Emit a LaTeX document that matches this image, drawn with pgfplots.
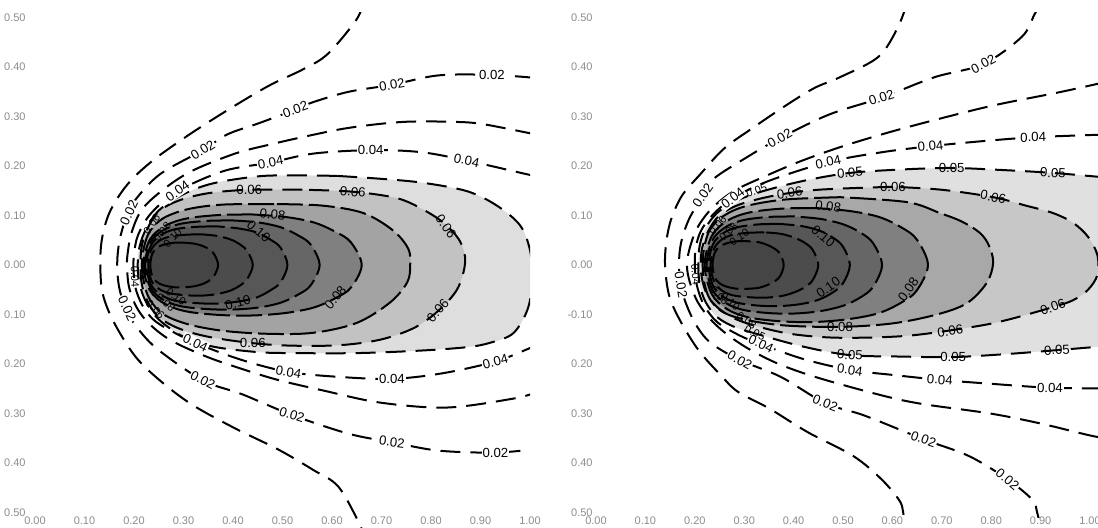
\documentclass[border=0pt]{standalone}
\usepackage{pgfplots}
\pgfplotsset{compat=1.18}
\usepackage{fontspec}
\setmainfont{Liberation Sans}
\newcommand\labfont{\fontsize{6.6}{7}\selectfont}
\newcommand\slabfont{\fontsize{5.4}{6}\selectfont}
\newcommand\tickfont{\fontsize{5.5}{6}\selectfont}
\pgfplotsset{
 cA/.style={black, line width=1pt, dash pattern=on 10pt off 5pt, smooth, tension=0.55},
 cB/.style={black, line width=1pt, dash pattern=on 13pt off 3pt, smooth, tension=0.55},
 fl/.style={draw=none, smooth, tension=0.55},
 base/.style={scale only axis, axis line style={draw=none}, major tick length=0pt, tick style={draw=none}, clip=true,
   xtick={0,0.1,0.2,0.3,0.4,0.5,0.6,0.7,0.8,0.9,1},
   xticklabels={0.00,0.10,0.20,0.30,0.40,0.50,0.60,0.70,0.80,0.90,1.00},
   ytick={-0.5,-0.4,-0.3,-0.2,-0.1,0,0.1,0.2,0.3,0.4,0.5},
   ticklabel style={font=\tickfont, text=black!45, inner sep=0pt}},
}
\tikzset{lab/.style={font=\labfont, inner sep=0.5pt, fill=white},
 labn/.style={font=\labfont, inner sep=0.3pt},
 labs/.style={font=\slabfont, inner sep=0.1pt}}
\newcommand\cl[5][lab]{\node[#1,rotate=#4] at (axis cs:#2,#3) {#5};}
\begin{document}
\begin{tikzpicture}[x=1pt,y=1pt]
\useasboundingbox (0,0) rectangle (549,264);
% ================= LEFT =================
\begin{axis}[base, at={(17.5pt,0.33pt)}, anchor=south west, width=247.5pt, height=257.4pt,
 xmin=0, xmax=1, ymin=-0.53, ymax=0.51,
 yticklabels={0.50,0.40,0.30,0.20,0.10,0.00,0.10,0.20,0.30,0.40,0.50},
 xticklabel style={anchor=north, yshift=5.7pt},
 yticklabel style={anchor=east, xshift=-4.5pt}]
% fills
\addplot[fl, fill=black!13] coordinates {(0.61,0.18) (0.52,0.181) (0.45,0.179) (0.36,0.165) (0.3,0.143) (0.25,0.11) (0.222,0.068) (0.209,0.025) (0.209,-0.025) (0.222,-0.07) (0.25,-0.11) (0.3,-0.145) (0.36,-0.165) (0.45,-0.176) (0.52,-0.178) (0.65,-0.178) (0.778,-0.173) (0.873,-0.166) (0.92,-0.157) (0.966,-0.138) (0.995,-0.09) (1.005,-0.03) (1.0,0.03) (0.98,0.08) (0.933,0.12) (0.873,0.149) (0.784,0.166) (0.7,0.174) (0.61,0.18)} --cycle;
\addplot[fl, fill=black!24] coordinates {(0.54,0.152) (0.433,0.152) (0.35,0.145) (0.29,0.13) (0.25,0.108) (0.228,0.075) (0.216,0.04) (0.213,0) (0.216,-0.04) (0.228,-0.075) (0.25,-0.105) (0.29,-0.128) (0.35,-0.145) (0.44,-0.158) (0.52,-0.163) (0.616,-0.162) (0.697,-0.151) (0.764,-0.128) (0.812,-0.095) (0.853,-0.049) (0.869,0.006) (0.859,0.047) (0.828,0.083) (0.784,0.112) (0.731,0.135) (0.642,0.148) (0.54,0.152)} --cycle;
\addplot[fl, fill=black!36] coordinates {(0.483,0.123) (0.38,0.122) (0.31,0.113) (0.26,0.095) (0.232,0.068) (0.22,0.035) (0.216,0) (0.22,-0.035) (0.232,-0.07) (0.26,-0.1) (0.31,-0.12) (0.38,-0.133) (0.47,-0.139) (0.562,-0.137) (0.65,-0.117) (0.717,-0.076) (0.752,-0.035) (0.758,0) (0.754,0.033) (0.723,0.07) (0.663,0.105) (0.58,0.12) (0.483,0.123)} --cycle;
\addplot[fl, fill=black!50] coordinates {(0.44,0.102) (0.373,0.101) (0.307,0.094) (0.263,0.079) (0.232,0.051) (0.219,0) (0.232,-0.051) (0.263,-0.079) (0.307,-0.094) (0.373,-0.101) (0.44,-0.102) (0.506,-0.097) (0.563,-0.086) (0.607,-0.067) (0.638,-0.046) (0.66,0) (0.638,0.046) (0.607,0.067) (0.563,0.086) (0.506,0.097) (0.44,0.102)} --cycle;
\addplot[fl, fill=black!60] coordinates {(0.399,0.09) (0.346,0.089) (0.293,0.083) (0.257,0.069) (0.233,0.045) (0.222,0) (0.233,-0.045) (0.257,-0.069) (0.293,-0.083) (0.346,-0.089) (0.399,-0.09) (0.451,-0.086) (0.497,-0.076) (0.533,-0.059) (0.557,-0.041) (0.575,0) (0.557,0.041) (0.533,0.059) (0.497,0.076) (0.451,0.086) (0.399,0.09)} --cycle;
\addplot[fl, fill=black!66] coordinates {(0.368,0.078) (0.325,0.077) (0.282,0.072) (0.254,0.06) (0.234,0.039) (0.225,0) (0.234,-0.039) (0.254,-0.06) (0.282,-0.072) (0.325,-0.077) (0.368,-0.078) (0.41,-0.074) (0.447,-0.066) (0.476,-0.051) (0.496,-0.035) (0.51,0) (0.496,0.035) (0.476,0.051) (0.447,0.066) (0.41,0.074) (0.368,0.078)} --cycle;
\addplot[fl, fill=black!70] coordinates {(0.335,0.062) (0.303,0.061) (0.271,0.057) (0.25,0.048) (0.235,0.031) (0.229,0) (0.235,-0.031) (0.25,-0.048) (0.271,-0.057) (0.303,-0.061) (0.335,-0.062) (0.366,-0.059) (0.394,-0.052) (0.415,-0.041) (0.429,-0.028) (0.44,0) (0.429,0.028) (0.415,0.041) (0.394,0.052) (0.366,0.059) (0.335,0.062)} --cycle;
\addplot[fl, fill=black!73] coordinates {(0.302,0.045) (0.281,0.045) (0.26,0.041) (0.247,0.035) (0.237,0.023) (0.233,0) (0.237,-0.023) (0.247,-0.035) (0.26,-0.041) (0.281,-0.045) (0.302,-0.045) (0.322,-0.043) (0.34,-0.038) (0.354,-0.03) (0.363,-0.02) (0.37,0) (0.363,0.02) (0.354,0.03) (0.34,0.038) (0.322,0.043) (0.302,0.045)} --cycle;
% lines
\addplot[cA] coordinates {(0.663,0.53) (0.649,0.495) (0.591,0.426) (0.541,0.395) (0.476,0.364) (0.404,0.322) (0.317,0.267) (0.238,0.211) (0.187,0.163) (0.151,0.107) (0.135,0.051) (0.132,-0.004) (0.137,-0.059) (0.159,-0.115) (0.202,-0.184) (0.252,-0.233) (0.317,-0.282) (0.404,-0.330) (0.490,-0.372) (0.562,-0.414) (0.613,-0.448) (0.656,-0.524) (0.66,-0.54)};
\addplot[cA] coordinates {(1.01,0.378) (0.923,0.384) (0.815,0.383) (0.721,0.364) (0.634,0.350) (0.562,0.329) (0.526,0.314) (0.454,0.287) (0.389,0.264) (0.339,0.232) (0.252,0.183) (0.2,0.128) (0.182,0.09) (0.17,0.045) (0.166,0) (0.17,-0.045) (0.182,-0.085) (0.2,-0.118) (0.245,-0.168) (0.339,-0.233) (0.418,-0.261) (0.519,-0.303) (0.634,-0.341) (0.721,-0.358) (0.815,-0.375) (0.930,-0.379) (1.01,-0.372)};
\addplot[cA] coordinates {(1.01,0.264) (0.908,0.284) (0.851,0.289) (0.743,0.289) (0.634,0.277) (0.548,0.260) (0.469,0.242) (0.404,0.225) (0.317,0.190) (0.26,0.153) (0.216,0.112) (0.195,0.065) (0.187,0.022) (0.186,-0.005) (0.19,-0.045) (0.205,-0.085) (0.23,-0.118) (0.274,-0.152) (0.346,-0.185) (0.418,-0.21) (0.49,-0.232) (0.584,-0.254) (0.697,-0.278) (0.832,-0.288) (0.966,-0.27) (1.01,-0.258)};
\addplot[cA] coordinates {(1.01,0.18) (0.995,0.183) (0.872,0.211) (0.779,0.228) (0.678,0.232) (0.562,0.225) (0.476,0.207) (0.382,0.19) (0.288,0.149) (0.235,0.105) (0.208,0.06) (0.2,0.02) (0.199,-0.01) (0.204,-0.05) (0.222,-0.09) (0.252,-0.12) (0.324,-0.157) (0.418,-0.192) (0.512,-0.216) (0.613,-0.226) (0.721,-0.23) (0.822,-0.219) (0.93,-0.195) (1.002,-0.167) (1.01,-0.163)};
\addplot[cA] coordinates {(0.61,0.18) (0.52,0.181) (0.45,0.179) (0.36,0.165) (0.3,0.143) (0.25,0.11) (0.222,0.068) (0.209,0.025) (0.209,-0.025) (0.222,-0.07) (0.25,-0.11) (0.3,-0.145) (0.36,-0.165) (0.45,-0.176) (0.52,-0.178) (0.65,-0.178) (0.778,-0.173) (0.873,-0.166) (0.92,-0.157) (0.966,-0.138) (0.995,-0.09) (1.005,-0.03) (1.0,0.03) (0.98,0.08) (0.933,0.12) (0.873,0.149) (0.784,0.166) (0.7,0.174) (0.61,0.18)};
\addplot[cA] coordinates {(0.54,0.152) (0.433,0.152) (0.35,0.145) (0.29,0.13) (0.25,0.108) (0.228,0.075) (0.216,0.04) (0.213,0) (0.216,-0.04) (0.228,-0.075) (0.25,-0.105) (0.29,-0.128) (0.35,-0.145) (0.44,-0.158) (0.52,-0.163) (0.616,-0.162) (0.697,-0.151) (0.764,-0.128) (0.812,-0.095) (0.853,-0.049) (0.869,0.006) (0.859,0.047) (0.828,0.083) (0.784,0.112) (0.731,0.135) (0.642,0.148) (0.54,0.152)};
\addplot[cB] coordinates {(0.483,0.123) (0.38,0.122) (0.31,0.113) (0.26,0.095) (0.232,0.068) (0.22,0.035) (0.216,0) (0.22,-0.035) (0.232,-0.07) (0.26,-0.1) (0.31,-0.12) (0.38,-0.133) (0.47,-0.139) (0.562,-0.137) (0.65,-0.117) (0.717,-0.076) (0.752,-0.035) (0.758,0) (0.754,0.033) (0.723,0.07) (0.663,0.105) (0.58,0.12) (0.483,0.123)};
\addplot[cB] coordinates {(0.44,0.102) (0.373,0.101) (0.307,0.094) (0.263,0.079) (0.232,0.051) (0.219,0) (0.232,-0.051) (0.263,-0.079) (0.307,-0.094) (0.373,-0.101) (0.44,-0.102) (0.506,-0.097) (0.563,-0.086) (0.607,-0.067) (0.638,-0.046) (0.66,0) (0.638,0.046) (0.607,0.067) (0.563,0.086) (0.506,0.097) (0.44,0.102)};
\addplot[cB] coordinates {(0.399,0.09) (0.346,0.089) (0.293,0.083) (0.257,0.069) (0.233,0.045) (0.222,0) (0.233,-0.045) (0.257,-0.069) (0.293,-0.083) (0.346,-0.089) (0.399,-0.09) (0.451,-0.086) (0.497,-0.076) (0.533,-0.059) (0.557,-0.041) (0.575,0) (0.557,0.041) (0.533,0.059) (0.497,0.076) (0.451,0.086) (0.399,0.09)};
\addplot[cB] coordinates {(0.368,0.078) (0.325,0.077) (0.282,0.072) (0.254,0.06) (0.234,0.039) (0.225,0) (0.234,-0.039) (0.254,-0.06) (0.282,-0.072) (0.325,-0.077) (0.368,-0.078) (0.41,-0.074) (0.447,-0.066) (0.476,-0.051) (0.496,-0.035) (0.51,0) (0.496,0.035) (0.476,0.051) (0.447,0.066) (0.41,0.074) (0.368,0.078)};
\addplot[cB] coordinates {(0.335,0.062) (0.303,0.061) (0.271,0.057) (0.25,0.048) (0.235,0.031) (0.229,0) (0.235,-0.031) (0.25,-0.048) (0.271,-0.057) (0.303,-0.061) (0.335,-0.062) (0.366,-0.059) (0.394,-0.052) (0.415,-0.041) (0.429,-0.028) (0.44,0) (0.429,0.028) (0.415,0.041) (0.394,0.052) (0.366,0.059) (0.335,0.062)};
\addplot[cB] coordinates {(0.302,0.045) (0.281,0.045) (0.26,0.041) (0.247,0.035) (0.237,0.023) (0.233,0) (0.237,-0.023) (0.247,-0.035) (0.26,-0.041) (0.281,-0.045) (0.302,-0.045) (0.322,-0.043) (0.34,-0.038) (0.354,-0.03) (0.363,-0.02) (0.37,0) (0.363,0.02) (0.354,0.03) (0.34,0.038) (0.322,0.043) (0.302,0.045)};
% labels
\cl{0.923}{0.384}{0}{0.02}\cl{0.721}{0.364}{10}{0.02}\cl{0.526}{0.314}{20}{0.02}\cl{0.339}{0.232}{32}{0.02}\cl{0.19}{0.105}{65}{0.02}
\cl{0.186}{-0.088}{-65}{0.02}\cl{0.339}{-0.233}{-27}{0.02}\cl{0.519}{-0.303}{-18}{0.02}\cl{0.721}{-0.358}{-8}{0.02}\cl{0.93}{-0.379}{0}{0.02}
\cl{0.288}{0.149}{35}{0.04}\cl{0.476}{0.207}{11}{0.04}\cl{0.678}{0.232}{0}{0.04}\cl{0.872}{0.211}{-12}{0.04}
\cl{0.324}{-0.157}{-25}{0.04}\cl{0.512}{-0.216}{-10}{0.04}\cl{0.721}{-0.23}{0}{0.04}\cl{0.93}{-0.195}{15}{0.04}
\cl[labs]{0.202}{-0.025}{-88}{0.04}
\cl[labn]{0.433}{0.152}{2}{0.06}\cl[labn]{0.642}{0.148}{-5}{0.06}\cl[labn]{0.83}{0.078}{-55}{0.06}\cl[labn]{0.814}{-0.092}{48}{0.06}\cl[labn]{0.44}{-0.158}{0}{0.06}
\cl[labn]{0.48}{0.102}{-8}{0.08}\cl[labn]{0.607}{-0.066}{50}{0.08}
\cl[labn]{0.452}{0.068}{-40}{0.10}\cl[labn]{0.41}{-0.076}{15}{0.10}
\cl[labs]{0.236}{0.082}{55}{0.06}\cl[labs]{0.257}{0.067}{50}{0.08}\cl[labs]{0.278}{0.054}{45}{0.10}
\cl[labs]{0.243}{-0.09}{-45}{0.06}\cl[labs]{0.264}{-0.076}{-40}{0.08}\cl[labs]{0.285}{-0.064}{-35}{0.10}
\end{axis}
% ================= RIGHT =================
\begin{axis}[base, at={(298pt,5.27pt)}, anchor=south west, width=250.95pt, height=252.45pt,
 xmin=0, xmax=1.016, ymin=-0.51, ymax=0.51,
 yticklabels={0.50,0.40,0.30,0.20,-0.10,0.00,0.10,0.20,0.30,0.40,0.50},
 xticklabel style={anchor=north, yshift=0.75pt},
 yticklabel style={anchor=east, xshift=-1.5pt}]
% fills
\addplot[fl, fill=black!12] coordinates {(0.207,0) (0.21,0.04) (0.222,0.075) (0.245,0.105) (0.28,0.128) (0.334,0.148) (0.42,0.17) (0.514,0.186) (0.62,0.193) (0.72,0.196) (0.82,0.192) (0.925,0.186) (1.02,0.178) (1.05,0.175) (1.05,-0.163) (1.02,-0.165) (0.933,-0.172) (0.83,-0.18) (0.723,-0.186) (0.62,-0.185) (0.514,-0.182) (0.42,-0.165) (0.328,-0.14) (0.28,-0.125) (0.245,-0.105) (0.222,-0.075) (0.21,-0.04)} --cycle;
\addplot[fl, fill=black!22] coordinates {(0.601,0.158) (0.45,0.152) (0.36,0.14) (0.29,0.122) (0.25,0.1) (0.228,0.07) (0.215,0.035) (0.212,0) (0.215,-0.03) (0.225,-0.06) (0.245,-0.085) (0.28,-0.108) (0.33,-0.125) (0.4,-0.14) (0.494,-0.147) (0.63,-0.143) (0.763,-0.125) (0.832,-0.111) (0.925,-0.085) (0.966,-0.071) (0.996,-0.05) (1.015,-0.02) (1.015,0.02) (0.996,0.057) (0.966,0.085) (0.925,0.105) (0.87,0.12) (0.804,0.137) (0.7,0.152) (0.601,0.158)} --cycle;
\addplot[fl, fill=black!34] coordinates {(0.494,0.137) (0.38,0.132) (0.3,0.118) (0.255,0.097) (0.23,0.07) (0.219,0.035) (0.216,0) (0.219,-0.035) (0.23,-0.068) (0.255,-0.094) (0.3,-0.11) (0.38,-0.122) (0.494,-0.125) (0.6,-0.118) (0.69,-0.1) (0.751,-0.077) (0.791,-0.036) (0.804,0.005) (0.795,0.04) (0.777,0.065) (0.74,0.088) (0.696,0.105) (0.63,0.127) (0.494,0.137)} --cycle;
\addplot[fl, fill=black!50] coordinates {(0.446,0.115) (0.378,0.114) (0.31,0.106) (0.265,0.089) (0.234,0.058) (0.22,0) (0.234,-0.058) (0.265,-0.089) (0.31,-0.106) (0.378,-0.114) (0.446,-0.115) (0.514,-0.109) (0.573,-0.097) (0.618,-0.076) (0.649,-0.052) (0.672,0) (0.649,0.052) (0.618,0.076) (0.573,0.097) (0.514,0.109) (0.446,0.115)} --cycle;
\addplot[fl, fill=black!60] coordinates {(0.402,0.098) (0.348,0.097) (0.295,0.09) (0.26,0.075) (0.235,0.049) (0.224,0) (0.235,-0.049) (0.26,-0.075) (0.295,-0.09) (0.348,-0.097) (0.402,-0.098) (0.455,-0.093) (0.501,-0.082) (0.536,-0.065) (0.561,-0.044) (0.579,0) (0.561,0.044) (0.536,0.065) (0.501,0.082) (0.455,0.093) (0.402,0.098)} --cycle;
\addplot[fl, fill=black!66] coordinates {(0.371,0.083) (0.328,0.082) (0.285,0.076) (0.257,0.064) (0.237,0.042) (0.228,0) (0.237,-0.042) (0.257,-0.064) (0.285,-0.076) (0.328,-0.082) (0.371,-0.083) (0.414,-0.079) (0.451,-0.07) (0.48,-0.055) (0.5,-0.037) (0.514,0) (0.5,0.037) (0.48,0.055) (0.451,0.07) (0.414,0.079) (0.371,0.083)} --cycle;
\addplot[fl, fill=black!70] coordinates {(0.341,0.066) (0.308,0.065) (0.276,0.061) (0.254,0.051) (0.239,0.033) (0.232,0) (0.239,-0.033) (0.254,-0.051) (0.276,-0.061) (0.308,-0.065) (0.341,-0.066) (0.374,-0.063) (0.402,-0.055) (0.424,-0.044) (0.439,-0.03) (0.45,0) (0.439,0.03) (0.424,0.044) (0.402,0.055) (0.374,0.063) (0.341,0.066)} --cycle;
\addplot[fl, fill=black!73] coordinates {(0.308,0.048) (0.286,0.048) (0.265,0.044) (0.25,0.037) (0.24,0.024) (0.236,0) (0.24,-0.024) (0.25,-0.037) (0.265,-0.044) (0.286,-0.048) (0.308,-0.048) (0.33,-0.046) (0.348,-0.04) (0.363,-0.032) (0.373,-0.022) (0.38,0) (0.373,0.022) (0.363,0.032) (0.348,0.04) (0.33,0.046) (0.308,0.048)} --cycle;
% lines
\addplot[cA] coordinates {(0.63,0.53) (0.610,0.478) (0.571,0.420) (0.493,0.379) (0.443,0.358) (0.387,0.324) (0.316,0.276) (0.259,0.235) (0.209,0.181) (0.174,0.140) (0.152,0.092) (0.142,0.044) (0.14,-0.005) (0.149,-0.065) (0.174,-0.119) (0.209,-0.174) (0.252,-0.222) (0.287,-0.256) (0.351,-0.290) (0.429,-0.338) (0.521,-0.386) (0.578,-0.433) (0.613,-0.474) (0.621,-0.495) (0.625,-0.53)};
\addplot[cA] coordinates {(0.9,0.53) (0.887,0.505) (0.862,0.461) (0.784,0.406) (0.684,0.379) (0.578,0.338) (0.472,0.304) (0.372,0.256) (0.301,0.215) (0.238,0.174) (0.216,0.14) (0.188,0.092) (0.172,0.044) (0.168,0) (0.172,-0.044) (0.185,-0.085) (0.205,-0.125) (0.233,-0.158) (0.291,-0.192) (0.374,-0.226) (0.464,-0.279) (0.543,-0.304) (0.663,-0.352) (0.755,-0.386) (0.833,-0.433) (0.883,-0.474) (0.893,-0.5) (0.9,-0.53)};
\addplot[cA] coordinates {(1.03,0.37) (1.011,0.365) (0.933,0.348) (0.812,0.324) (0.713,0.3) (0.6,0.27) (0.5,0.24) (0.415,0.21) (0.344,0.18) (0.28,0.15) (0.235,0.115) (0.205,0.075) (0.19,0.035) (0.184,0) (0.19,-0.035) (0.206,-0.075) (0.232,-0.11) (0.265,-0.14) (0.31,-0.17) (0.37,-0.2) (0.45,-0.228) (0.581,-0.264) (0.662,-0.281) (0.798,-0.3) (0.899,-0.32) (0.994,-0.343) (1.03,-0.35)};
\addplot[cA] coordinates {(1.03,0.263) (1.014,0.263) (0.885,0.258) (0.78,0.25) (0.677,0.24) (0.58,0.228) (0.47,0.208) (0.35,0.17) (0.277,0.135) (0.235,0.1) (0.212,0.068) (0.202,0.035) (0.2,0) (0.204,-0.04) (0.218,-0.08) (0.245,-0.115) (0.29,-0.142) (0.334,-0.16) (0.42,-0.19) (0.514,-0.212) (0.6,-0.222) (0.696,-0.232) (0.8,-0.24) (0.919,-0.248) (1.03,-0.249)};
\addplot[cA] coordinates {(1.03,0.177) (0.925,0.186) (0.82,0.192) (0.72,0.196) (0.62,0.193) (0.514,0.186) (0.42,0.17) (0.334,0.148) (0.28,0.128) (0.245,0.105) (0.222,0.075) (0.21,0.04) (0.207,0) (0.21,-0.04) (0.222,-0.075) (0.245,-0.105) (0.28,-0.125) (0.328,-0.14) (0.42,-0.165) (0.514,-0.182) (0.62,-0.185) (0.723,-0.186) (0.83,-0.18) (0.933,-0.172) (1.03,-0.164)};
\addplot[cA] coordinates {(0.601,0.158) (0.45,0.152) (0.36,0.14) (0.29,0.122) (0.25,0.1) (0.228,0.07) (0.215,0.035) (0.212,0) (0.215,-0.03) (0.225,-0.06) (0.245,-0.085) (0.28,-0.108) (0.33,-0.125) (0.4,-0.14) (0.494,-0.147) (0.63,-0.143) (0.763,-0.125) (0.832,-0.111) (0.925,-0.085) (0.966,-0.071) (0.996,-0.05) (1.015,-0.02) (1.015,0.02) (0.996,0.057) (0.966,0.085) (0.925,0.105) (0.87,0.12) (0.804,0.137) (0.7,0.152) (0.601,0.158)};
\addplot[cB] coordinates {(0.494,0.137) (0.38,0.132) (0.3,0.118) (0.255,0.097) (0.23,0.07) (0.219,0.035) (0.216,0) (0.219,-0.035) (0.23,-0.068) (0.255,-0.094) (0.3,-0.11) (0.38,-0.122) (0.494,-0.125) (0.6,-0.118) (0.69,-0.1) (0.751,-0.077) (0.791,-0.036) (0.804,0.005) (0.795,0.04) (0.777,0.065) (0.74,0.088) (0.696,0.105) (0.63,0.127) (0.494,0.137)};
\addplot[cB] coordinates {(0.446,0.115) (0.378,0.114) (0.31,0.106) (0.265,0.089) (0.234,0.058) (0.22,0) (0.234,-0.058) (0.265,-0.089) (0.31,-0.106) (0.378,-0.114) (0.446,-0.115) (0.514,-0.109) (0.573,-0.097) (0.618,-0.076) (0.649,-0.052) (0.672,0) (0.649,0.052) (0.618,0.076) (0.573,0.097) (0.514,0.109) (0.446,0.115)};
\addplot[cB] coordinates {(0.402,0.098) (0.348,0.097) (0.295,0.09) (0.26,0.075) (0.235,0.049) (0.224,0) (0.235,-0.049) (0.26,-0.075) (0.295,-0.09) (0.348,-0.097) (0.402,-0.098) (0.455,-0.093) (0.501,-0.082) (0.536,-0.065) (0.561,-0.044) (0.579,0) (0.561,0.044) (0.536,0.065) (0.501,0.082) (0.455,0.093) (0.402,0.098)};
\addplot[cB] coordinates {(0.371,0.083) (0.328,0.082) (0.285,0.076) (0.257,0.064) (0.237,0.042) (0.228,0) (0.237,-0.042) (0.257,-0.064) (0.285,-0.076) (0.328,-0.082) (0.371,-0.083) (0.414,-0.079) (0.451,-0.07) (0.48,-0.055) (0.5,-0.037) (0.514,0) (0.5,0.037) (0.48,0.055) (0.451,0.07) (0.414,0.079) (0.371,0.083)};
\addplot[cB] coordinates {(0.341,0.066) (0.308,0.065) (0.276,0.061) (0.254,0.051) (0.239,0.033) (0.232,0) (0.239,-0.033) (0.254,-0.051) (0.276,-0.061) (0.308,-0.065) (0.341,-0.066) (0.374,-0.063) (0.402,-0.055) (0.424,-0.044) (0.439,-0.03) (0.45,0) (0.439,0.03) (0.424,0.044) (0.402,0.055) (0.374,0.063) (0.341,0.066)};
\addplot[cB] coordinates {(0.308,0.048) (0.286,0.048) (0.265,0.044) (0.25,0.037) (0.24,0.024) (0.236,0) (0.24,-0.024) (0.25,-0.037) (0.265,-0.044) (0.286,-0.048) (0.308,-0.048) (0.33,-0.046) (0.348,-0.04) (0.363,-0.032) (0.373,-0.022) (0.38,0) (0.373,0.022) (0.363,0.032) (0.348,0.04) (0.33,0.046) (0.308,0.048)};
% labels
\cl{0.784}{0.406}{28}{0.02}\cl{0.578}{0.338}{18}{0.02}\cl{0.372}{0.256}{30}{0.02}\cl{0.216}{0.14}{55}{0.02}\cl{0.172}{-0.04}{-80}{0.02}
\cl{0.291}{-0.192}{-30}{0.02}\cl{0.464}{-0.279}{-22}{0.02}\cl{0.663}{-0.352}{-20}{0.02}\cl{0.833}{-0.433}{-40}{0.02}
\cl{0.277}{0.135}{38}{0.04}\cl{0.47}{0.208}{12}{0.04}\cl{0.677}{0.24}{5}{0.04}\cl{0.885}{0.258}{1}{0.04}
\cl{0.334}{-0.16}{-25}{0.04}\cl{0.514}{-0.212}{-8}{0.04}\cl{0.696}{-0.232}{-4}{0.04}\cl{0.919}{-0.248}{-1}{0.04}
\cl[labs]{0.202}{-0.02}{-85}{0.04}
\cl[labn]{0.514}{0.186}{5}{0.05}\cl[labn]{0.72}{0.196}{0}{0.05}\cl[labn]{0.925}{0.186}{-3}{0.05}
\cl[labn]{0.514}{-0.182}{-3}{0.05}\cl[labn]{0.723}{-0.186}{0}{0.05}\cl[labn]{0.933}{-0.172}{3}{0.05}
\cl[labs]{0.325}{0.15}{20}{0.05}\cl[labs]{0.322}{-0.137}{-25}{0.05}
\cl[labn]{0.392}{0.145}{8}{0.06}\cl[labn]{0.601}{0.158}{0}{0.06}\cl[labn]{0.804}{0.137}{-12}{0.06}\cl[labn]{0.925}{-0.085}{20}{0.06}\cl[labn]{0.717}{-0.133}{8}{0.06}
\cl[labs]{0.305}{-0.112}{-35}{0.08}
\cl[labn]{0.47}{0.118}{-8}{0.08}\cl[labn]{0.632}{-0.05}{55}{0.08}\cl[labn]{0.494}{-0.125}{0}{0.08}
\cl[labn]{0.46}{0.058}{-40}{0.10}\cl[labn]{0.47}{-0.045}{35}{0.10}
\cl[labs]{0.246}{0.08}{50}{0.06}\cl[labs]{0.268}{0.067}{45}{0.08}\cl[labs]{0.29}{0.056}{35}{0.10}
\cl[labs]{0.25}{-0.062}{-45}{0.08}\cl[labs]{0.272}{-0.074}{-40}{0.10}
\end{axis}
\end{tikzpicture}
\end{document}
